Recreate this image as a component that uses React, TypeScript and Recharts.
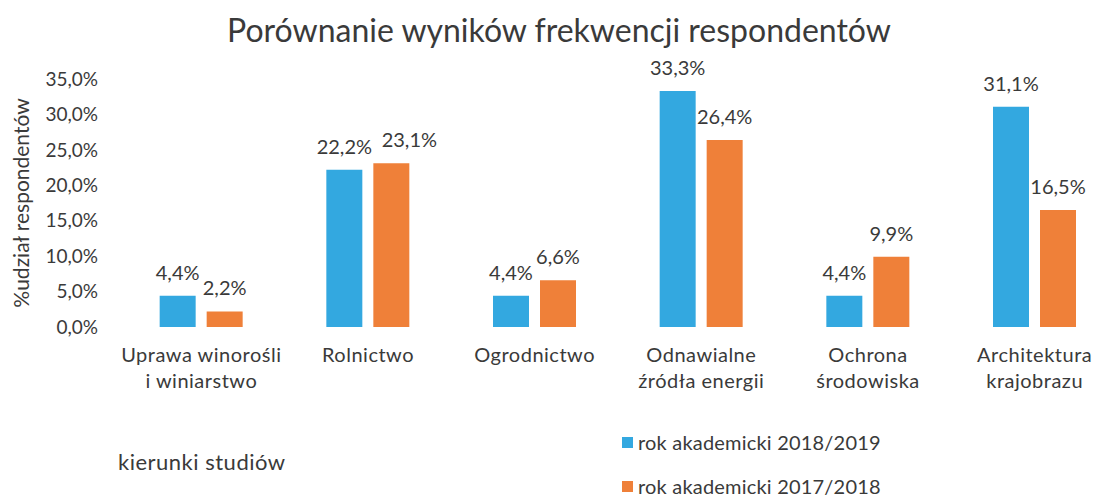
import { BarChart, Bar, XAxis, YAxis, LabelList } from 'recharts';

const categories = [
    'Uprawa winorośli\ni winiarstwo',
    'Rolnictwo',
    'Ogrodnictwo',
    'Odnawialne\nźródła energii',
    'Ochrona\nśrodowiska',
    'Architektura\nkrajobrazu',
];
const rok2018_2019 = [4.4, 22.2, 4.4, 33.3, 4.4, 31.1];
const rok2017_2018 = [2.2, 23.1, 6.6, 26.4, 9.9, 16.5];
const yTicks = [0, 5, 10, 15, 20, 25, 30, 35];

const series = [
    { key: 'a', name: 'rok akademicki 2018/2019', color: '#33a8e0' },
    { key: 'b', name: 'rok akademicki 2017/2018', color: '#ef8039' },
];

const data = categories.map((k, i) => ({
    kierunek: k,
    a: rok2018_2019[i],
    b: rok2017_2018[i],
}));

const FONT = 'Lato, "Open Sans", sans-serif';
const TEXT = '#3a3a3a';

const pct = (v: any) => `${Number(v).toFixed(1).replace('.', ',')}%`;

const CategoryTick = ({ x, y, payload }: any) => {
    const lines = String(payload.value).split('\n');
    return (
        <text x={x} y={y} textAnchor="middle" fill={TEXT} fontSize={20} fontFamily={FONT} letterSpacing={0.5}>
            {lines.map((l, i) => (
                <tspan key={i} x={x} dy={i === 0 ? 27 : 26}>
                    {l}
                </tspan>
            ))}
        </text>
    );
};

// etykieta wartości; pomarańczowa przesunięta w prawo gdy słupki są prawie równe
const makeValueLabel = (key: string) => (props: any) => {
    const { x, y, width, value, index } = props;
    const close = Math.abs(rok2018_2019[index] - rok2017_2018[index]) < 1.5;
    const dx = key === 'b' && close ? 18 : 0;
    return (
        <text
            x={x + width / 2 + dx}
            y={y - 16}
            textAnchor="middle"
            fill={TEXT}
            fontSize={20}
            fontFamily={FONT}
        >
            {pct(value)}
        </text>
    );
};

export default function App() {
    return (
        <div style={{ position: 'absolute', left: 0, top: 0, width: 1093, height: 497, background: '#fff', overflow: 'hidden' }}>
            <div
                style={{
                    position: 'absolute',
                    top: 10,
                    left: 0,
                    width: 1118,
                    textAlign: 'center',
                    fontFamily: FONT,
                    fontSize: 32,
                    color: TEXT,
                }}
            >
                Porównanie wyników frekwencji respondentów
            </div>
            <div
                style={{
                    position: 'absolute',
                    top: 448,
                    left: 118,
                    fontFamily: FONT,
                    fontSize: 22,
                    letterSpacing: 0.5,
                    color: TEXT,
                }}
            >
                kierunki studiów
            </div>
            {/* legenda */}
            <div
                style={{
                    position: 'absolute',
                    left: 622,
                    top: 420,
                    fontFamily: FONT,
                    fontSize: 20,
                    letterSpacing: 0.2,
                    color: TEXT,
                }}
            >
                {series.map((s) => (
                    <div key={s.key} style={{ display: 'flex', alignItems: 'center', height: 44 }}>
                        <span style={{ width: 11, height: 11, background: s.color, marginRight: 5 }} />
                        {s.name}
                    </div>
                ))}
            </div>
            <BarChart
                width={1093}
                height={497}
                data={data}
                margin={{ top: 79, right: -25, left: 0, bottom: 110 }}
                barCategoryGap="25%"
                barGap={11}
                style={{ position: 'absolute', left: 0, top: 0 }}
            >
                <XAxis
                    dataKey="kierunek"
                    axisLine={false}
                    tickLine={false}
                    interval={0}
                    height={60}
                    tick={<CategoryTick />}
                />
                <YAxis
                    width={118}
                    domain={[0, 35]}
                    ticks={yTicks}
                    axisLine={false}
                    tickLine={false}
                    tickMargin={14}
                    tickFormatter={pct}
                    tick={{ fill: TEXT, fontSize: 19, fontFamily: FONT }}
                    label={{
                        value: '%udział respondentów',
                        angle: -90,
                        position: 'insideLeft',
                        offset: 22,
                        textAnchor: 'middle',
                        fill: TEXT,
                        fontSize: 21,
                        fontFamily: FONT,
                    }}
                />
                {series.map((s) => (
                    <Bar key={s.key} dataKey={s.key} name={s.name} fill={s.color} isAnimationActive={false}>
                        <LabelList dataKey={s.key} content={makeValueLabel(s.key)} />
                    </Bar>
                ))}
            </BarChart>
        </div>
    );
}
